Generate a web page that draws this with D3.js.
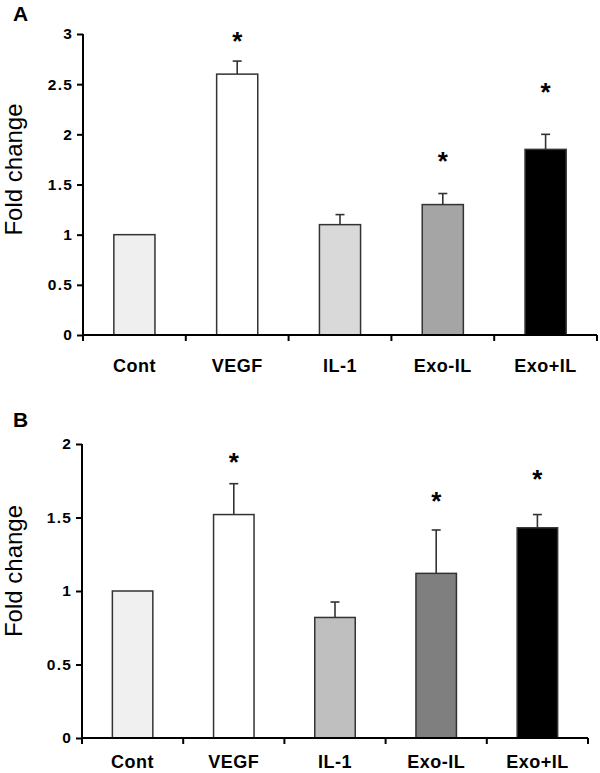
<!DOCTYPE html>
<html>
<head>
<meta charset="utf-8">
<script src="https://cdn.jsdelivr.net/npm/d3@7"></script>
<style>
  html, body { margin: 0; padding: 0; background: #fff; }
  svg { display: block; font-family: "Liberation Sans", Arial, sans-serif; }
</style>
</head>
<body>
<svg id="chart" width="600" height="773"></svg>
<script>
const categories = ["Cont", "VEGF", "IL-1", "Exo-IL", "Exo+IL"];

const valuesA = [1.00, 2.60, 1.10, 1.30, 1.85];
const errorsA = [0, 0.13, 0.10, 0.11, 0.15];
const starsA  = [null, 2.99, null, 1.79, 2.48];
const colorsA = ["#efefef", "#ffffff", "#d9d9d9", "#a5a5a5", "#000000"];
const ticksA  = [0, 0.5, 1, 1.5, 2, 2.5, 3];

const valuesB = [1.00, 1.52, 0.82, 1.12, 1.43];
const errorsB = [0, 0.21, 0.105, 0.295, 0.09];
const starsB  = [null, 1.92, null, 1.65, 1.80];
const colorsB = ["#f0f0f0", "#ffffff", "#bfbfbf", "#7f7f7f", "#000000"];
const ticksB  = [0, 0.5, 1, 1.5, 2];

const svg = d3.select("#chart");

function panel(cfg) {
  const g = svg.append("g");
  const x = d3.scaleBand().domain(categories).range([cfg.x0, cfg.x1]).padding(0);
  const y = d3.scaleLinear().domain([0, cfg.ymax]).range([cfg.y0, cfg.y1]);
  const bw = x.bandwidth() * 0.4;

  g.append("text").attr("x", 13).attr("y", cfg.letterY)
    .attr("font-size", 21).attr("font-weight", "bold").text(cfg.letter);

  g.append("text")
    .attr("transform", `translate(${22},${(cfg.y0 + cfg.y1) / 2 + cfg.labelShift}) rotate(-90)`)
    .attr("text-anchor", "middle").attr("font-size", 24)
    .text("Fold change");

  const data = categories.map((c, i) => ({ c, v: cfg.values[i], e: cfg.errors[i], s: cfg.stars[i], col: cfg.colors[i] }));

  const eb = g.selectAll(".eb").data(data.filter(d => d.e > 0)).join("g");
  eb.append("line")
    .attr("x1", d => x(d.c) + x.bandwidth() / 2).attr("x2", d => x(d.c) + x.bandwidth() / 2)
    .attr("y1", d => y(d.v)).attr("y2", d => y(d.v + d.e))
    .attr("stroke", "#333").attr("stroke-width", 1.6);
  eb.append("line")
    .attr("x1", d => x(d.c) + x.bandwidth() / 2 - 4.5).attr("x2", d => x(d.c) + x.bandwidth() / 2 + 4.5)
    .attr("y1", d => y(d.v + d.e)).attr("y2", d => y(d.v + d.e))
    .attr("stroke", "#333").attr("stroke-width", 1.6);

  g.selectAll(".bar").data(data).join("rect")
    .attr("x", d => x(d.c) + (x.bandwidth() - bw) / 2)
    .attr("width", bw)
    .attr("y", d => y(d.v))
    .attr("height", d => y(0) - y(d.v))
    .attr("fill", d => d.col)
    .attr("stroke", "#333").attr("stroke-width", 1.5);

  g.selectAll(".star").data(data.filter(d => d.s != null)).join("text")
    .attr("x", d => x(d.c) + x.bandwidth() / 2)
    .attr("y", d => y(d.s) + 15)
    .attr("text-anchor", "middle").attr("font-size", 26).attr("font-weight", "bold")
    .text("*");

  const ya = g.append("g").attr("transform", `translate(${cfg.x0},0)`)
    .call(d3.axisLeft(y).tickValues(cfg.ticks).tickSize(6).tickPadding(4).tickFormat(d3.format("")));
  ya.select(".domain").attr("stroke", "#000").attr("stroke-width", 2).attr("d", `M0,${cfg.y0}V${cfg.y1}`);
  ya.selectAll(".tick line").attr("stroke", "#000").attr("stroke-width", 2);
  ya.selectAll(".tick text").attr("font-size", 15.5).attr("font-weight", "bold")
    .attr("letter-spacing", "1.2px").attr("fill", "#000").attr("font-family", "Liberation Sans, Arial, sans-serif");

  const xa = g.append("g").attr("transform", `translate(0,${cfg.y0})`);
  xa.append("line").attr("x1", cfg.x0).attr("x2", cfg.x1).attr("y1", 0).attr("y2", 0)
    .attr("stroke", "#000").attr("stroke-width", 2);
  const bounds = categories.map(c => x(c)).concat([cfg.x1]);
  xa.selectAll(".xt").data(bounds).join("line")
    .attr("x1", d => d).attr("x2", d => d).attr("y1", 0).attr("y2", 6)
    .attr("stroke", "#000").attr("stroke-width", 2);
  xa.selectAll(".xl").data(categories).join("text")
    .attr("x", d => x(d) + x.bandwidth() / 2).attr("y", cfg.xLabelY)
    .attr("text-anchor", "middle").attr("font-size", 18).attr("font-weight", "bold")
    .attr("letter-spacing", "0.5px")
    .text(d => d);
}

panel({ letter: "A", letterY: 21, x0: 83, x1: 597, y0: 335, y1: 34, ymax: 3,
  values: valuesA, errors: errorsA, stars: starsA, colors: colorsA, ticks: ticksA,
  xLabelY: 37, labelShift: -15 });
panel({ letter: "B", letterY: 427, x0: 82, x1: 588, y0: 738, y1: 444, ymax: 2,
  values: valuesB, errors: errorsB, stars: starsB, colors: colorsB, ticks: ticksB,
  xLabelY: 30, labelShift: -20 });
</script>
</body>
</html>
